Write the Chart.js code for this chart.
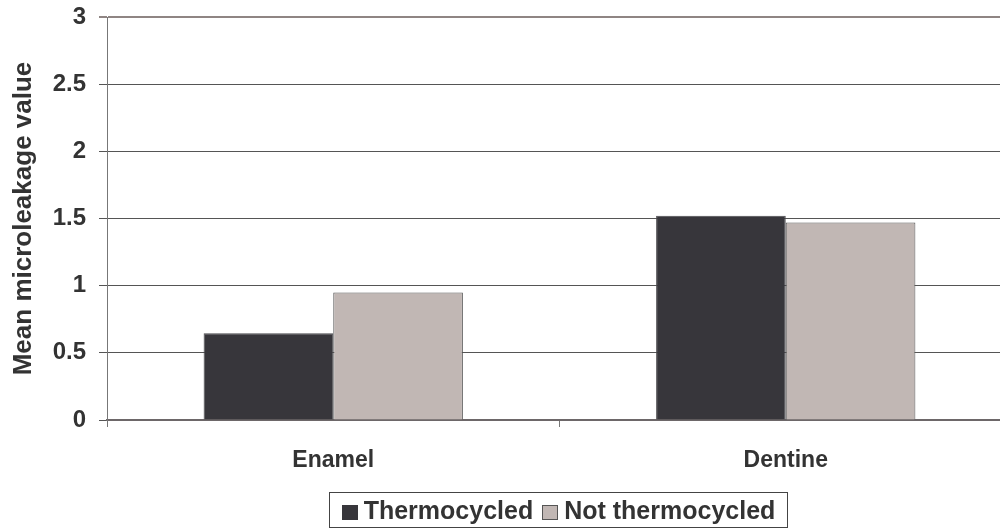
<!DOCTYPE html>
<html>
<head>
<meta charset="utf-8">
<script src="https://cdn.jsdelivr.net/npm/chart.js@4"></script>
<style>
  html, body { margin: 0; padding: 0; background: #fff; overflow: hidden; width: 1000px; height: 531px; }
  #wrap { position: relative; width: 1000px; height: 531px; overflow: hidden; }
  #chart { position: absolute; left: 0; top: 0; }
  .legend {
    position: absolute; left: 329px; top: 492px; width: 457px; height: 34px;
    border: 1px solid #444; box-sizing: content-box;
    font: bold 25px "Liberation Sans", Arial, sans-serif; color: #333;
    display: flex; align-items: center; justify-content: center; gap: 9px;
  }
  .legend span.sw { display: inline-block; width: 16px; height: 15px; margin-right: 6px; vertical-align: -1px; box-sizing: border-box; }
</style>
</head>
<body>
<div id="wrap">
  <canvas id="chart" width="1012" height="531"></canvas>
  <div class="legend">
    <div><span class="sw" style="background:#37363b"></span>Thermocycled</div>
    <div><span class="sw" style="background:#c1b7b4;border:1px solid #555"></span>Not thermocycled</div>
  </div>
</div>
<script>
// data
const categories = ['Enamel', 'Dentine']
const thermocycled = [0.645, 1.52]
const notThermocycled = [0.95, 1.47]
const yTicks = [0, 0.5, 1, 1.5, 2, 2.5, 3]

const FONT = '"Liberation Sans", Arial, sans-serif'

new Chart(document.getElementById('chart'), {
  type: 'bar',
  data: {
    labels: categories,
    datasets: [
      { label: 'Thermocycled', data: thermocycled, backgroundColor: '#37363b', borderColor: '#4a494d', borderWidth: 1 },
      { label: 'Not thermocycled', data: notThermocycled, backgroundColor: '#c1b7b4', borderColor: '#555', borderWidth: 1 }
    ]
  },
  options: {
    responsive: false,
    animation: false,
    layout: { padding: { top: 17, right: 0, bottom: 0, left: 0 } },
    datasets: { bar: { barPercentage: 1.0, categoryPercentage: 0.573 } },
    plugins: { legend: { display: false }, tooltip: { enabled: false } },
    scales: {
      x: {
        grid: { drawOnChartArea: false, drawTicks: true, tickLength: 7, color: '#777', offset: true },
        border: { color: '#6d6769', width: 2 },
        ticks: { font: { family: FONT, size: 23, weight: 'bold' }, color: '#333', padding: 20 },
        afterFit: s => { s.height = 111 }
      },
      y: {
        min: 0, max: 3,
        afterBuildTicks: s => { s.ticks = yTicks.map(v => ({ value: v })) },
        grid: {
          color: ctx => ctx.tick && ctx.tick.value === 3 ? '#8f8583' : '#555',
          lineWidth: ctx => ctx.tick && ctx.tick.value === 3 ? 2 : 1,
          tickLength: 8
        },
        border: { color: '#777', width: 1 },
        ticks: {
          font: { family: FONT, size: 24, weight: 'bold' }, color: '#333', padding: 13,
          callback: v => String(v)
        },
        title: {
          display: true, text: 'Mean microleakage value',
          font: { family: FONT, size: 26, weight: 'bold' }, color: '#333',
          padding: { top: 8, bottom: 0 }
        },
        afterFit: s => { s.width = 107; s.paddingTop = 0; s.paddingBottom = 0 }
      }
    }
  }
})
</script>
</body>
</html>
